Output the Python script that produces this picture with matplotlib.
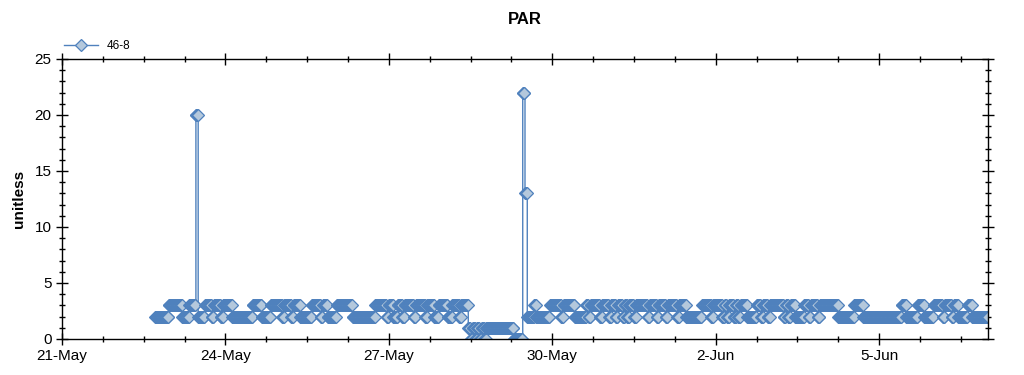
import numpy as np
import matplotlib
matplotlib.use("Agg")
import matplotlib.pyplot as plt
import matplotlib.dates as mdates
from matplotlib.ticker import FixedLocator, MultipleLocator
from datetime import datetime, timedelta

# ---- data (hour offsets from 21-May 00:00 where the value changes; value held, logged every 15 min) ----
start_date = datetime(2015, 5, 21)
end_hour = 408
sample_minutes = 15
change_hours = [41, 47, 53, 56, 59, 60, 63, 66, 67, 70, 71, 75, 84, 88, 92, 97, 98, 101, 102, 105,
                110, 114, 115, 117, 121, 128, 138, 143, 144, 146, 148, 150, 151, 155, 156, 160, 161,
                164, 166, 170, 172, 175, 176, 179, 180, 181, 182, 183, 184, 185, 186, 187, 199,
                203, 204, 205, 208, 209, 215, 220, 221, 226, 231, 232, 233, 237, 238, 241, 242, 244,
                245, 247, 248, 249, 250, 252, 253, 258, 259, 262, 263, 266, 267, 271, 272, 275, 282,
                286, 287, 291, 292, 293, 294, 296, 297, 298, 299, 302, 306, 308, 309, 311, 312, 318,
                319, 320, 321, 323, 327, 329, 330, 333, 334, 342, 349, 353, 370, 372, 377, 380, 384,
                388, 389, 392, 393, 395, 399, 401]
change_values = [2, 3, 2, 3, 20, 2, 3, 2, 3, 2, 3, 2, 3, 2, 3, 2, 3, 2, 3, 2,
                 3, 2, 3, 2, 3, 2, 3, 2, 3, 2, 3, 2, 3, 2, 3, 2, 3,
                 2, 3, 2, 3, 2, 3, 1, 0, 1, 0, 1, 0, 1, 0, 1, 0,
                 22, 13, 2, 3, 2, 3, 2, 3, 2, 3, 2, 3, 2, 3, 2, 3, 2,
                 3, 2, 3, 2, 3, 2, 3, 2, 3, 2, 3, 2, 3, 2, 3, 2, 3,
                 2, 3, 2, 3, 2, 3, 2, 3, 2, 3, 2, 3, 2, 3, 2, 3, 2,
                 3, 2, 3, 2, 3, 2, 3, 2, 3, 2, 3, 2, 3, 2, 3, 2, 3,
                 2, 3, 2, 3, 2, 3, 2]
series_name = "46-8"
title = "PAR"
y_label = "unitless"

# ---- decode runs into 15-minute samples ----
times = []
vals = []
bounds = change_hours + [end_hour]
for i, v in enumerate(change_values):
    t = start_date + timedelta(hours=bounds[i])
    stop = start_date + timedelta(hours=bounds[i + 1])
    while t < stop:
        times.append(t)
        vals.append(v)
        t += timedelta(minutes=sample_minutes)
times.append(start_date + timedelta(hours=end_hour))
vals.append(change_values[-1])

fig = plt.figure(figsize=(10.24, 3.75), dpi=100)
ax = fig.add_axes([62 / 1024, 1 - 339 / 375, (988 - 62) / 1024, (339 - 59) / 375])

line_color = "#4f81bd"
ax.plot(times, vals, drawstyle="steps-post", color=line_color, lw=1.0,
        marker="D", markersize=6.3, markerfacecolor="#b4c8dc", markeredgecolor=line_color,
        markeredgewidth=0.9, label=series_name)

x0 = mdates.date2num(start_date)
x1 = mdates.date2num(start_date + timedelta(days=17))
ax.set_xlim(x0, x1)
ax.set_ylim(0, 25)

ax.xaxis.set_major_locator(FixedLocator(np.arange(x0, x1, 3)))
ax.xaxis.set_minor_locator(FixedLocator(np.arange(x0, x1 + 0.01, 0.75)))
ax.xaxis.set_major_formatter(mdates.DateFormatter("%-d-%b"))
ax.yaxis.set_major_locator(MultipleLocator(5))
ax.yaxis.set_minor_locator(MultipleLocator(1))

font = "Liberation Sans"
ax.tick_params(axis="both", which="major", direction="inout", length=8, width=1,
               labelsize=11, top=True, right=True)
ax.tick_params(axis="both", which="minor", direction="inout", length=5, width=1,
               top=True, right=True)
for lab in ax.get_xticklabels() + ax.get_yticklabels():
    lab.set_fontfamily(font)
for s in ax.spines.values():
    s.set_linewidth(1.0)

ax.set_ylabel(y_label, fontsize=11, fontweight="bold", fontfamily=font, labelpad=6)
fig.text((62 + 988) / 2 / 1024, 1 - 20 / 375, title, ha="center", va="center",
         fontsize=12, fontweight="bold", fontfamily=font)

leg = ax.legend(loc="lower left", bbox_to_anchor=(-0.005, 1.0), frameon=False,
                prop={"family": font, "size": 8.5}, handlelength=2.8, borderaxespad=0.2)

fig.savefig("out.png", dpi=100, facecolor="white")
